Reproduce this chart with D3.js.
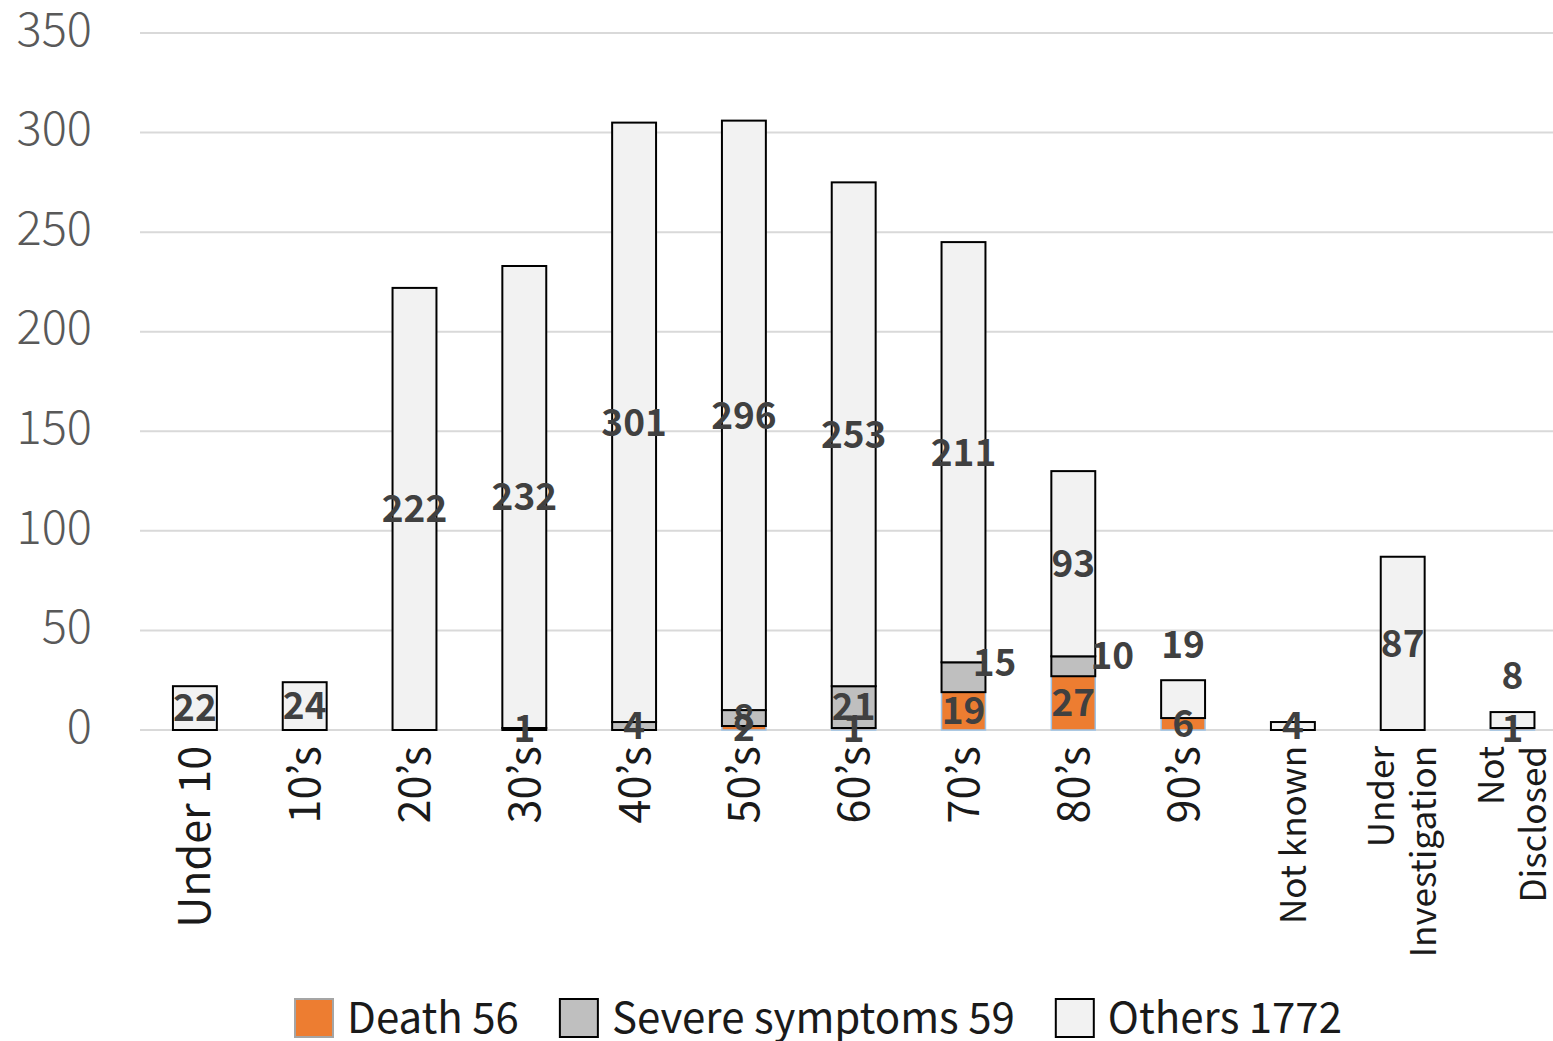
<!DOCTYPE html>
<html>
<head>
<meta charset="utf-8">
<script src="https://cdn.jsdelivr.net/npm/d3@7"></script>
<style>
  html, body { margin: 0; padding: 0; background: #fff; }
  svg { display: block; }
  text { font-family: "Noto Sans CJK JP", "Liberation Sans", sans-serif; }
</style>
</head>
<body>
<svg id="chart" width="1553" height="1041"></svg>
<script>
// ---- Data ----
const categories = ["Under 10", "10’s", "20’s", "30’s", "40’s", "50’s", "60’s", "70’s", "80’s", "90’s", "Not known", "Under\nInvestigation", "Not\nDisclosed"];
const death  = [0, 0, 0, 0, 0, 2, 1, 19, 27, 6, 0, 0, 1];
const severe = [0, 0, 0, 1, 4, 8, 21, 15, 10, 0, 0, 0, 0];
const others = [22, 24, 222, 232, 301, 296, 253, 211, 93, 19, 4, 87, 8];
const seriesNames = ["Death", "Severe symptoms", "Others"];
const legendLabels = ["Death 56", "Severe symptoms 59", "Others 1772"];
const yTicks = [0, 50, 100, 150, 200, 250, 300, 350];

// ---- Styles / layout ----
const W = 1553, H = 1041;
const plot = { left: 140, right: 1567.4, top: 33, bottom: 730 };
const fills   = { "Death": "#ED7D31", "Severe symptoms": "#BFBFBF", "Others": "#F2F2F2" };
const strokes = { "Death": "#9DC3E6", "Severe symptoms": "#000000", "Others": "#000000" };
const strokeW = { "Death": 1.5, "Severe symptoms": 2, "Others": 2 };
// manual label nudges (pixels) as in the original chart
const labelNudge = {
  "Severe symptoms|70’s": [31, -15],
  "Severe symptoms|80’s": [39, -11],
  "Others|90’s": [0, -54],
  "Others|Not\nDisclosed": [0, -44]
};
const smallLabelCats = ["Not known", "Under\nInvestigation", "Not\nDisclosed"];

const svg = d3.select("#chart");

const rows = categories.map((c, i) => ({ cat: c, "Death": death[i], "Severe symptoms": severe[i], "Others": others[i] }));
const stacked = d3.stack().keys(seriesNames)(rows);

const x = d3.scaleBand().domain(categories).range([plot.left, plot.right]).paddingInner(0.6).paddingOuter(0.3);
const y = d3.scaleLinear().domain([0, 350]).range([plot.bottom, plot.top]);

// gridlines
svg.append("g").selectAll("line").data(yTicks).join("line")
  .attr("x1", plot.left).attr("x2", W)
  .attr("y1", d => y(d)).attr("y2", d => y(d))
  .attr("stroke", "#D9D9D9").attr("stroke-width", 2);

// y tick labels
svg.append("g").selectAll("text").data(yTicks).join("text")
  .attr("x", 92).attr("y", d => y(d)).attr("dy", "0.27em")
  .attr("text-anchor", "end")
  .attr("font-size", 47).attr("font-weight", 300)
  .attr("fill", "#595959")
  .text(d => d);

// bars
const gBars = svg.append("g");
stacked.forEach(s => {
  gBars.append("g").selectAll("rect")
    .data(s.filter(d => d[1] - d[0] > 0))
    .join("rect")
    .attr("x", d => x(d.data.cat))
    .attr("width", x.bandwidth())
    .attr("y", d => y(d[1]))
    .attr("height", d => y(d[0]) - y(d[1]))
    .attr("fill", fills[s.key])
    .attr("stroke", strokes[s.key])
    .attr("stroke-width", strokeW[s.key]);
});

// data labels
const gLab = svg.append("g");
stacked.forEach(s => {
  gLab.append("g").selectAll("text")
    .data(s.filter(d => d[1] - d[0] > 0))
    .join("text")
    .attr("x", d => x(d.data.cat) + x.bandwidth() / 2 + ((labelNudge[s.key + "|" + d.data.cat] || [0, 0])[0]))
    .attr("y", d => y((d[0] + d[1]) / 2) + ((labelNudge[s.key + "|" + d.data.cat] || [0, 0])[1]))
    .attr("dy", "0.36em")
    .attr("text-anchor", "middle")
    .attr("font-size", 37).attr("font-weight", 700)
    .attr("fill", "#404040")
    .text(d => d[1] - d[0]);
});

// x axis labels (rotated)
const gX = svg.append("g");
categories.forEach(c => {
  const small = smallLabelCats.includes(c);
  const fs = small ? 35 : 43;
  const lines = c.split("\n");
  const cx = x(c) + x.bandwidth() / 2;
  const t = gX.append("text")
    .attr("transform", `translate(${cx},746) rotate(-90)`)
    .attr("text-anchor", "end")
    .attr("font-size", fs)
    .attr("fill", "#1a1a1a");
  const lh = 42;
  lines.forEach((ln, i) => {
    const off = (i - (lines.length - 1) / 2) * lh;
    t.append("tspan").attr("x", 0).attr("y", off).attr("dy", "0.36em").text(ln);
  });
});

// legend
const gLeg = svg.append("g");
let lx = 295;
seriesNames.forEach((k, i) => {
  gLeg.append("rect")
    .attr("x", lx).attr("y", 999).attr("width", 38).attr("height", 38)
    .attr("fill", fills[k])
    .attr("stroke", k === "Death" ? "#A5A5A5" : "#000")
    .attr("stroke-width", 2);
  const t = gLeg.append("text")
    .attr("x", lx + 52).attr("y", 1018).attr("dy", "0.36em")
    .attr("font-size", 42).attr("fill", "#1a1a1a")
    .text(legendLabels[i]);
  const w = t.node().getComputedTextLength();
  lx = lx + 52 + w + 41;
});
</script>
</body>
</html>
